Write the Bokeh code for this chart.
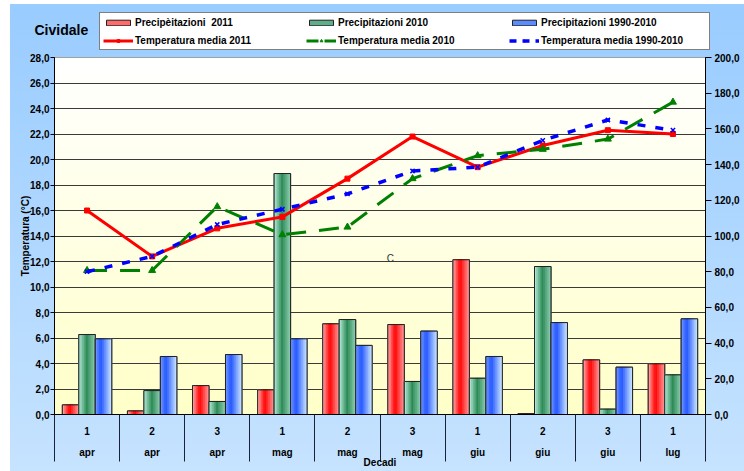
import numpy as np
from bokeh.plotting import figure
from bokeh.layouts import column
from bokeh.models import (Range1d, LinearAxis, FixedTicker, CustomJSTickFormatter,
                          Legend, LegendItem, Label, ColumnDataSource)
from bokeh.transform import dodge
from bokeh.embed import file_html
from bokeh.resources import INLINE

# ---------------- data ----------------
decadi = ["1", "2", "3", "1", "2", "3", "1", "2", "3", "1"]
mesi = ["apr", "apr", "apr", "mag", "mag", "mag", "giu", "giu", "giu", "lug"]

prec_2011 = [5.4, 2.0, 16.2, 13.8, 50.8, 50.4, 86.7, 0.5, 30.6, 28.4]
prec_2010 = [44.8, 13.4, 7.3, 135.0, 53.2, 18.5, 20.3, 82.9, 3.0, 22.2]
prec_clim = [42.4, 32.5, 33.6, 42.4, 38.7, 46.7, 32.5, 51.5, 26.5, 53.6]

temp_2011 = [16.0, 12.4, 14.6, 15.5, 18.5, 21.8, 19.4, 21.1, 22.3, 22.0]
temp_2010 = [11.3, 11.3, 16.3, 14.1, 14.7, 18.5, 20.3, 20.8, 21.6, 24.5]
temp_clim = [11.2, 12.4, 14.9, 16.1, 17.3, 19.1, 19.4, 21.5, 23.1, 22.3]

temp_ticks = [0, 2, 4, 6, 8, 10, 12, 14, 16, 18, 20, 22, 24, 26, 28]
prec_ticks = [0, 20, 40, 60, 80, 100, 120, 140, 160, 180, 200]

leg_labels = ["Precipèitazioni  2011", "Precipitazioni 2010", "Precipitazioni 1990-2010",
              "Temperatura media 2011", "Temperatura media 2010", "Temperatura media 1990-2010"]
station = "Cividale"

# ---------------- style ----------------
FONT = "'Liberation Sans', Arial, sans-serif"
RED, GREEN, BLUE = "#ff0000", "#008000", "#0000ff"
RED_MID, GREEN_MID, BLUE_MID = "#ff6b6b", "#5fae8a", "#5a8cff"

n = len(decadi)
centers = [i + 0.5 for i in range(n)]
bounds = [i for i in range(n + 1)]


def hex2rgb(h):
    h = h.lstrip("#")
    return np.array([int(h[i:i + 2], 16) for i in (0, 2, 4)], dtype=float)


def grad(stops, t):
    for (t0, c0), (t1, c1) in zip(stops[:-1], stops[1:]):
        if t0 <= t <= t1:
            f = (t - t0) / (t1 - t0) if t1 > t0 else 0
            c = hex2rgb(c0) * (1 - f) + hex2rgb(c1) * f
            return "#%02x%02x%02x" % tuple(int(round(v)) for v in c)
    return stops[-1][1]


# ================= main chart =================
p = figure(width=744, height=420, x_range=Range1d(0, n), y_range=Range1d(0, temp_ticks[-1]),
           output_backend="svg", toolbar_location=None,
           x_axis_location=None, y_axis_location=None,
           min_border_left=54, min_border_right=39, min_border_top=6, min_border_bottom=57)
p.frame_align = False
p.extra_y_ranges = {"prec": Range1d(0, prec_ticks[-1])}
p.border_fill_color = None
p.background_fill_color = "#ffffee"
p.outline_line_color = "black"
p.outline_line_width = 1

# plot-area vertical gradient (decorative)
nb = 40
edges = np.linspace(0, temp_ticks[-1], nb + 1)
bcols = [grad([(0, "#ffffc8"), (1, "#ffffff")], (i + 0.5) / nb) for i in range(nb)]
p.quad(left=0, right=n, bottom=edges[:-1], top=edges[1:], fill_color=bcols,
       line_color=bcols, line_width=1, level="image")

p.ygrid.ticker = FixedTicker(ticks=temp_ticks)
p.ygrid.grid_line_color = "#3a3a3a"
p.ygrid.grid_line_width = 1
p.xgrid.grid_line_color = None

# ---------------- bars ----------------
bw = 0.253
series = [
    (prec_2011, -bw, RED_MID, [(0, "#ffb8b8"), (0.45, "#ff0000"), (1, "#ff9a9a")]),
    (prec_2010, 0.0, GREEN_MID, [(0, "#bff2e2"), (0.5, "#2e8b57"), (1, "#8fcfb2")]),
    (prec_clim, bw, BLUE_MID, [(0, "#7ea2ff"), (0.35, "#2255ff"), (1, "#cfeaff")]),
]
ns = 9
for vals, off, mid, stops in series:
    src = ColumnDataSource(dict(x=[c + off for c in centers], top=vals))
    p.vbar(x="x", top="top", bottom=0, width=bw, source=src, y_range_name="prec",
           fill_color=mid, line_color="#222222", line_width=1)
    for k in range(ns):
        col = grad(stops, (k + 0.5) / ns)
        p.vbar(x=dodge("x", (k + 0.5) / ns * bw - bw / 2, range=p.x_range), top="top", bottom=0,
               width=bw / ns, source=src, y_range_name="prec",
               fill_color=col, line_color=col, line_width=0.6)
    p.vbar(x="x", top="top", bottom=0, width=bw, source=src, y_range_name="prec",
           fill_color=None, line_color="#222222", line_width=1)

# ---------------- lines ----------------
p.line(centers, temp_2011, line_color=RED, line_width=3)
p.scatter(centers, temp_2011, marker="square", size=5, fill_color=RED, line_color=RED)
p.line(centers, temp_2010, line_color=GREEN, line_width=3, line_dash="20 13")
p.scatter(centers, temp_2010, marker="triangle", size=7, fill_color=GREEN, line_color=GREEN)
p.line(centers, temp_clim, line_color=BLUE, line_width=3.5, line_dash="8 10")
p.scatter(centers, temp_clim, marker="x", size=6, line_color=BLUE, line_width=1.5)

p.add_layout(Label(x=5.16, y=12.2, text="C", text_font=FONT, text_font_size="10px",
                   text_color="#333333", text_baseline="middle", text_align="center"))

# ---------------- axes ----------------
fmt = CustomJSTickFormatter(code="return tick.toFixed(1).replace('.', ',');")


def style_val_axis(ax, tick_out, standoff):
    ax.formatter = fmt
    ax.major_label_text_font = FONT
    ax.major_label_text_font_size = "10px"
    ax.major_label_text_font_style = "bold"
    ax.major_label_text_color = "black"
    ax.major_tick_out = tick_out
    ax.major_tick_in = 0
    ax.minor_tick_line_color = None
    ax.axis_line_color = "black"
    ax.major_tick_line_color = "black"
    ax.major_label_standoff = standoff


yl = LinearAxis(ticker=FixedTicker(ticks=temp_ticks))
style_val_axis(yl, 4, 1)
yl.axis_label = "Temperatura (°C)"
yl.axis_label_text_font = FONT
yl.axis_label_text_font_size = "10px"
yl.axis_label_text_font_style = "bold"
yl.axis_label_text_color = "black"
yl.axis_label_standoff = -4
p.add_layout(yl, "left")

yr = LinearAxis(y_range_name="prec", ticker=FixedTicker(ticks=prec_ticks))
style_val_axis(yr, 6, 3)
p.add_layout(yr, "right")

ax1 = LinearAxis(ticker=FixedTicker(ticks=centers, minor_ticks=bounds),
                 formatter=CustomJSTickFormatter(args=dict(labels=decadi),
                                                 code="return labels[Math.floor(tick)];"))
ax1.major_tick_out = 0
ax1.major_tick_in = 0
ax1.major_tick_line_color = None
ax1.minor_tick_out = 47
ax1.minor_tick_in = 0
ax1.minor_tick_line_color = "#1b2233"
ax1.minor_tick_line_width = 1
ax1.axis_line_color = "black"
ax1.major_label_standoff = -35
ax1.major_label_text_font = FONT
ax1.major_label_text_font_size = "10px"
ax1.major_label_text_font_style = "bold"
ax1.major_label_text_color = "black"
p.add_layout(ax1, "below")

ax2 = LinearAxis(ticker=FixedTicker(ticks=centers),
                 formatter=CustomJSTickFormatter(args=dict(labels=mesi),
                                                 code="return labels[Math.floor(tick)];"))
ax2.major_tick_out = 0
ax2.major_tick_in = 0
ax2.major_tick_line_color = None
ax2.minor_tick_line_color = None
ax2.axis_line_color = None
ax2.major_label_standoff = 9
ax2.major_label_text_font = FONT
ax2.major_label_text_font_size = "10px"
ax2.major_label_text_font_style = "bold"
ax2.major_label_text_color = "black"
ax2.axis_label = "Decadi"
ax2.axis_label_standoff = -4
ax2.axis_label_text_font = FONT
ax2.axis_label_text_font_size = "10px"
ax2.axis_label_text_font_style = "bold"
ax2.axis_label_text_color = "black"
p.add_layout(ax2, "below")

# ================= header: station name + legend =================
hdr = figure(width=744, height=51, x_range=Range1d(0, 744), y_range=Range1d(51, 0),
             output_backend="svg", toolbar_location=None,
             x_axis_location=None, y_axis_location=None,
             min_border_left=0, min_border_right=0, min_border_top=0, min_border_bottom=0)
hdr.frame_align = False
hdr.background_fill_color = None
hdr.border_fill_color = None
hdr.outline_line_color = None
hdr.xgrid.grid_line_color = None
hdr.ygrid.grid_line_color = None

# legend proxies (a single NaN point each, so nothing is drawn in the header itself)
NA = [np.nan]
g1 = hdr.vbar(x=NA, top=NA, width=1, fill_color=RED_MID, line_color="#222222")
g2 = hdr.vbar(x=NA, top=NA, width=1, fill_color=GREEN_MID, line_color="#222222")
g3 = hdr.vbar(x=NA, top=NA, width=1, fill_color=BLUE_MID, line_color="#222222")
k1 = hdr.line(x=NA, y=NA, line_color=RED, line_width=3)
s1 = hdr.scatter(x=NA, y=NA, marker="square", size=5, fill_color=RED, line_color=RED)
k2 = hdr.line(x=NA, y=NA, line_color=GREEN, line_width=3, line_dash="12 6")
s2 = hdr.scatter(x=NA, y=NA, marker="triangle", size=7, fill_color=GREEN, line_color=GREEN)
k3 = hdr.line(x=NA, y=NA, line_color=BLUE, line_width=3.5, line_dash="7 6")
s3 = hdr.scatter(x=NA, y=NA, marker="x", size=6, line_color=BLUE, line_width=1.5)

items = [
    LegendItem(label=leg_labels[0], renderers=[g1]),
    LegendItem(label=leg_labels[1], renderers=[g2]),
    LegendItem(label=leg_labels[2], renderers=[g3]),
    LegendItem(label=leg_labels[3], renderers=[k1, s1]),
    LegendItem(label=leg_labels[4], renderers=[k2, s2]),
    LegendItem(label=leg_labels[5], renderers=[k3, s3]),
]
legend = Legend(items=items, location=(99, 1), orientation="horizontal", ncols=3,
                glyph_width=30, glyph_height=7, label_standoff=2, label_width=165, label_height=12,
                spacing=6, padding=3, margin=0,
                label_text_font=FONT, label_text_font_size="10px",
                label_text_font_style="bold", label_text_color="black",
                border_line_color="black", border_line_width=1,
                background_fill_color="white", background_fill_alpha=1)
hdr.add_layout(legend, "center")

hdr.add_layout(Label(x=34, y=29, text=station, text_font=FONT, text_font_size="14px",
                     text_font_style="bold", text_color="black", text_baseline="middle"))

layout = column(hdr, p, spacing=0,
                styles={"background-color": "white",
                        "background-image": "linear-gradient(to bottom, #99ccff, #c6e3ff)",
                        "background-repeat": "no-repeat",
                        "background-position": "10px 4px",
                        "background-size": "734px 467px"})

open("out.html", "w").write(file_html(layout, INLINE))
